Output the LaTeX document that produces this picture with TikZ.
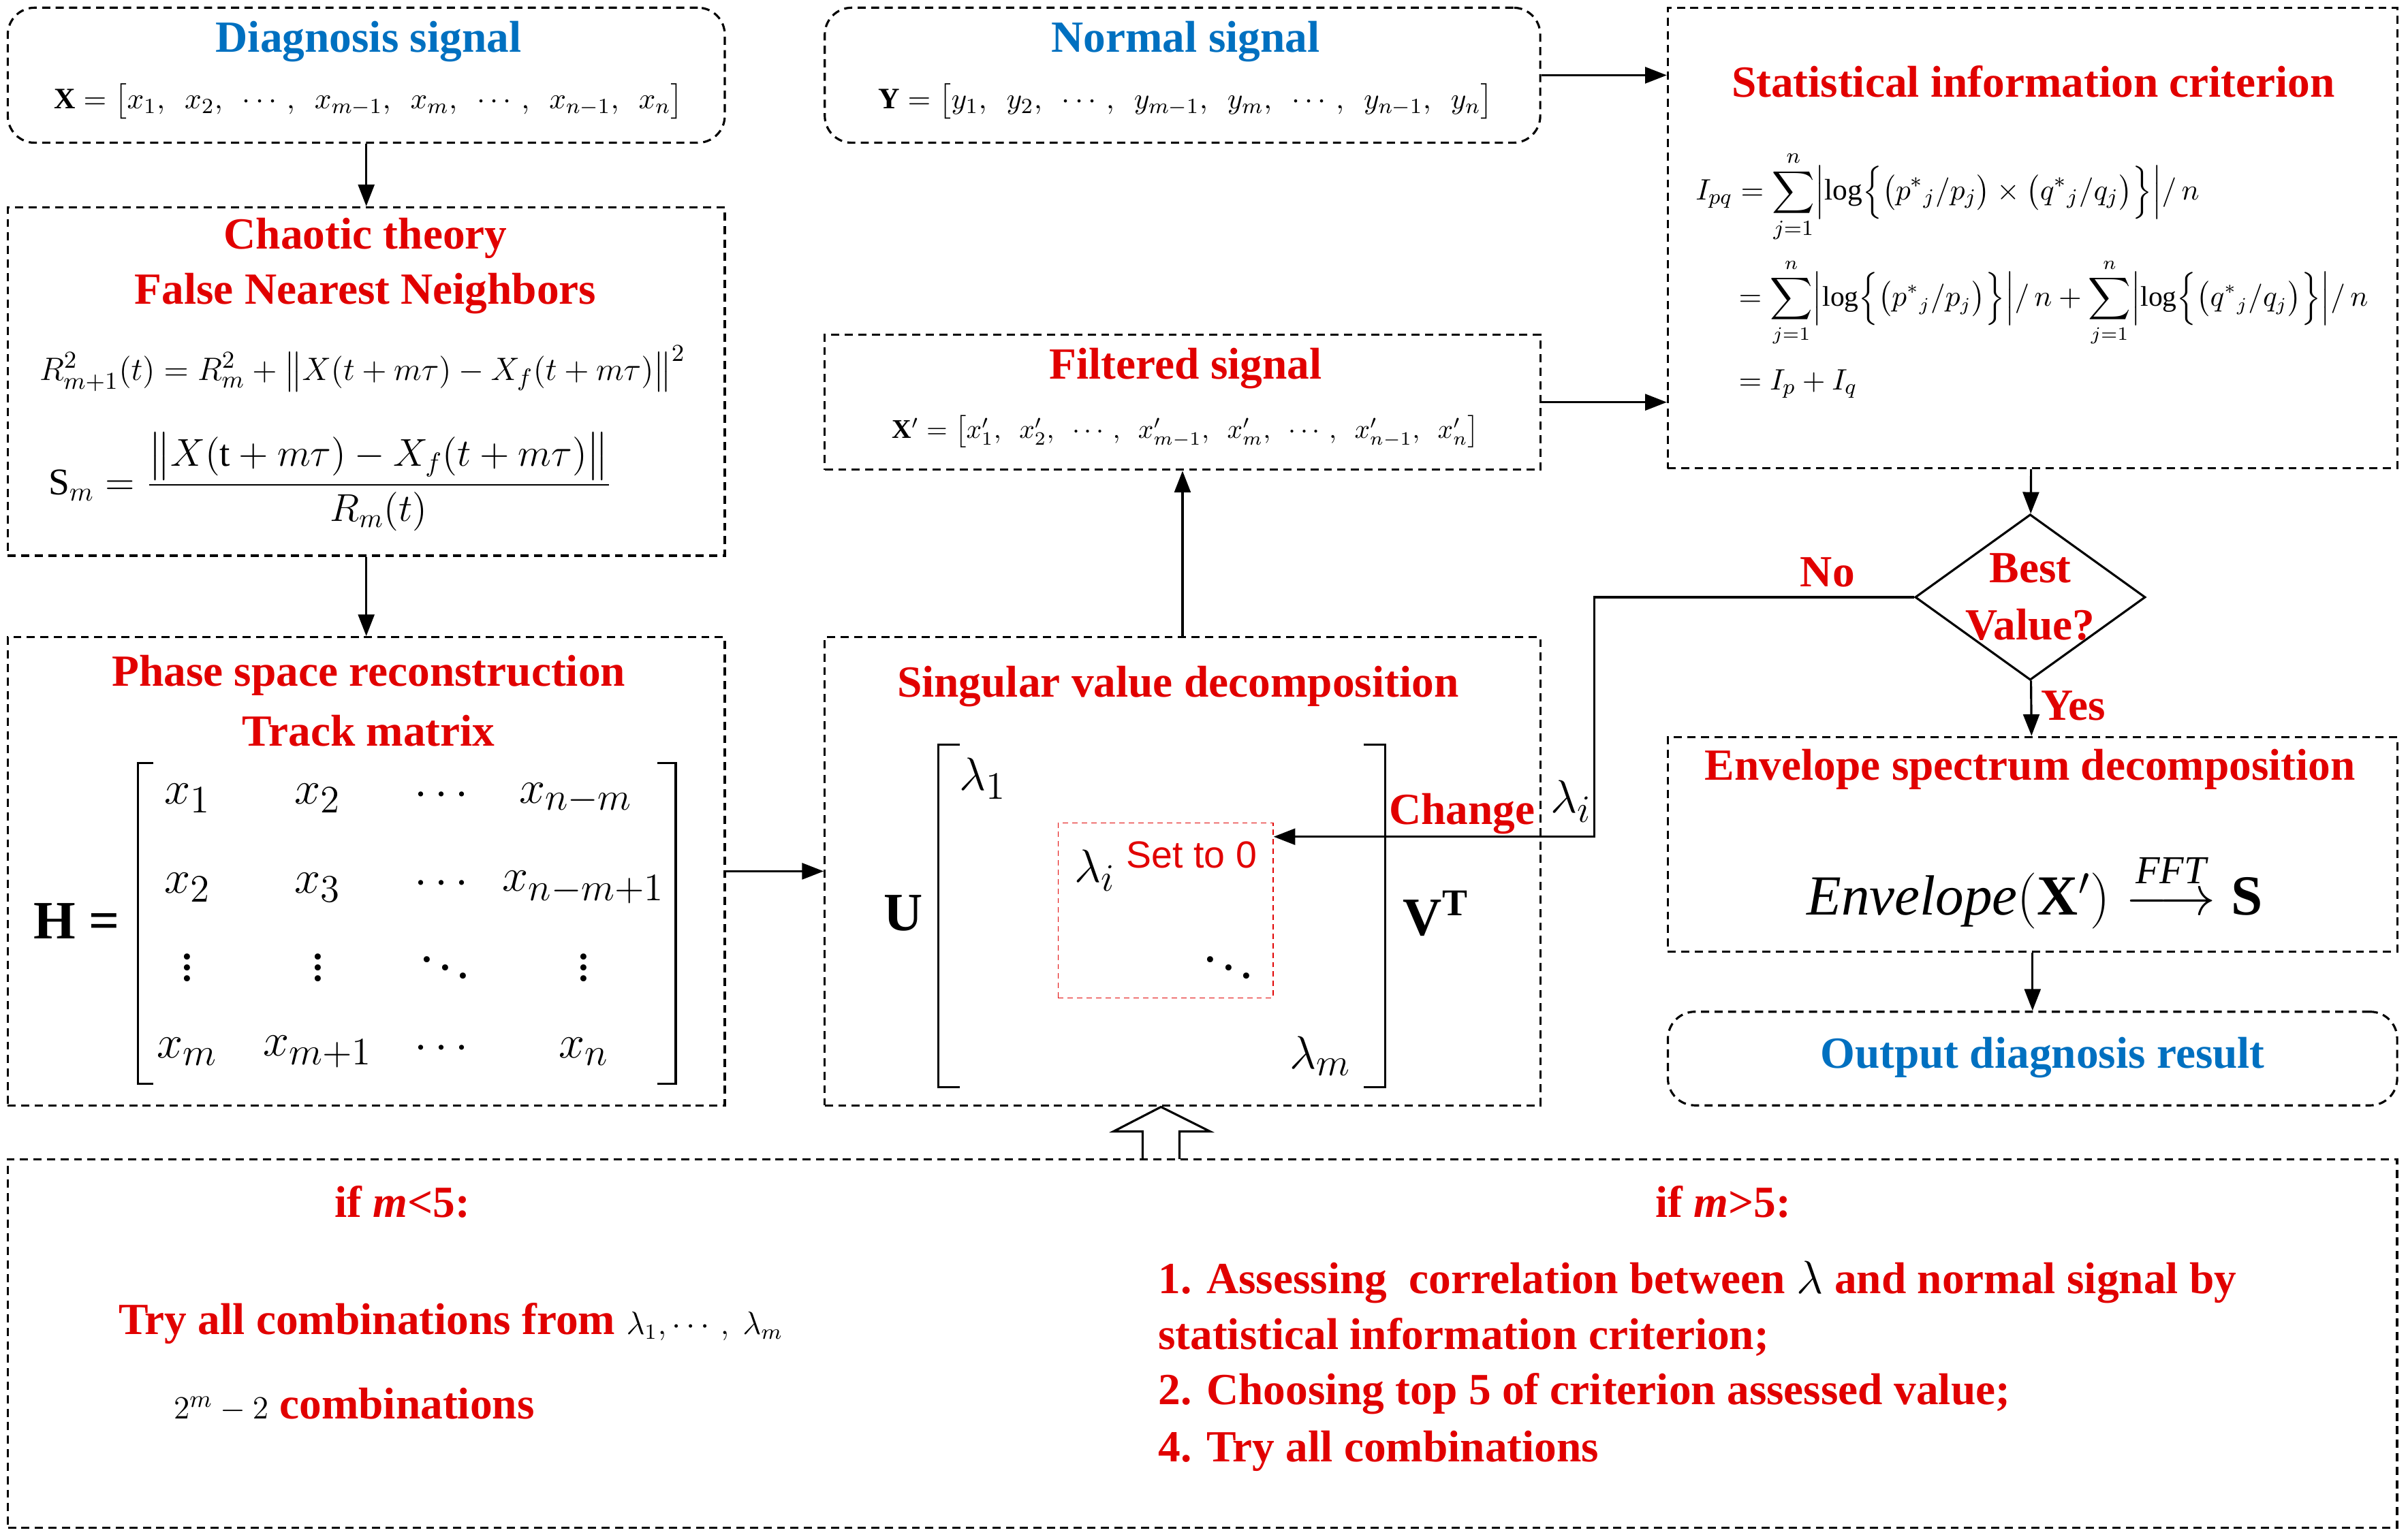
\documentclass[tikz,border=0pt]{standalone}
\usepackage{amsmath}
\usepackage{fontspec}
\setmainfont{Liberation Serif}
\newfontfamily\sansf{Liberation Sans}
\usetikzlibrary{arrows.meta,shapes.geometric,positioning}
\definecolor{tred}{RGB}{225,0,0}
\definecolor{tblue}{RGB}{0,112,192}
\tikzset{
  box/.style={draw,thick,dash pattern=on 3pt off 2pt,minimum width=9.34cm},
  rbox/.style={box,rounded corners=10pt},
  head/.style={text=tred,font=\fontsize{16.5}{19}\selectfont\bfseries},
  bhead/.style={text=tblue,font=\fontsize{16.5}{19}\selectfont\bfseries},
  eq/.style={font=\fontsize{11}{13}\selectfont},
  ent/.style={font=\fontsize{19}{22}\selectfont},
  flow/.style={thick,-{Triangle[length=8pt,width=6pt]}}
}
\begin{document}
\begin{tikzpicture}[x=0.02cm,y=-0.02cm]
\useasboundingbox (0,0) rectangle (1568,1002.4);
% boxes
\node[rbox,minimum height=1.76cm]                     (diag)   at (238.5,49)    {};
\node[box,minimum height=4.54cm]                      (chaos)  at (238.5,248.5) {};
\node[box,minimum height=6.1cm]                       (phase)  at (238.5,567.5) {};
\node[rbox,minimum width=9.32cm,minimum height=1.76cm] (normal) at (770,49)      {};
\node[box,minimum width=9.32cm,minimum height=1.76cm]  (filt)   at (770,262)     {};
\node[box,minimum width=9.32cm,minimum height=6.1cm]   (svd)    at (770,567.5)   {};
\node[box,minimum width=9.5cm,minimum height=6cm]      (stat)   at (1323.5,155)  {};
\node[draw,thick,diamond,minimum width=3cm,minimum height=2.16cm,inner sep=0pt] (best) at (1322,389) {};
\node[head] (tbest) at (1322,370) {Best};
\node[head] (tval)  at (1322,407) {Value?};
\node[box,minimum width=9.5cm,minimum height=2.8cm]    (env)    at (1323.5,550)  {};
\node[rbox,minimum width=9.5cm,minimum height=1.22cm]  (out)    at (1323.5,689.5) {};
\node[box,minimum width=31.12cm,minimum height=4.8cm]  (cond)   at (783,875)     {};
\node[draw=tred,thin,dash pattern=on 2pt off 1.5pt,minimum width=2.8cm,minimum height=2.28cm]
      (setz) at (759,593) {};

% titles
\node[bhead] (tdiag)   at (240,27)  {Diagnosis signal};
\node[bhead] (tnormal) at (772,27)  {Normal signal};
\node[head]  (tchaos)  at (238,155) {Chaotic theory};
\node[head]  (tfnn)    at (238,191) {False Nearest Neighbors};
\node[head]  (tphase)  at (240,440) {Phase space reconstruction};
\node[head]  (ttrack)  at (240,476) {Track matrix};
\node[head]  (tfilt)   at (772,240) {Filtered signal};
\node[head]  (tsvd)    at (767,447) {Singular value decomposition};
\node[head]  (tstat)   at (1324,53) {Statistical information criterion};
\node[head]  (tenv)    at (1322,501) {Envelope spectrum decomposition};
\node[bhead] (tout)    at (1330,689) {Output diagnosis result};

% signals
\node[eq] (xvec) at (240,66) {$\mathbf{X}=\bigl[x_1,\ \ x_2,\ \ \cdots,\ \ x_{m-1},\ \ x_m,\ \ \cdots,\ \ x_{n-1},\ \ x_n\bigr]$};
\node[eq] (yvec) at (772,66) {$\mathbf{Y}=\bigl[y_1,\ \ y_2,\ \ \cdots,\ \ y_{m-1},\ \ y_m,\ \ \cdots,\ \ y_{n-1},\ \ y_n\bigr]$};
\node[eq,font=\fontsize{10}{12}\selectfont] (xfil) at (772,281) {$\mathbf{X'}=\bigl[x'_1,\ \ x'_2,\ \ \cdots,\ \ x'_{m-1},\ \ x'_m,\ \ \cdots,\ \ x'_{n-1},\ \ x'_n\bigr]$};

% chaotic formulas
\node[eq,font=\fontsize{13}{16}\selectfont] (rform) at (236,240)
  {$R_{m+1}^2(t)=R_m^2+\bigl\|X(t+m\tau)-X_f(t+m\tau)\bigr\|^2$};
\node[eq,font=\fontsize{14}{17}\selectfont] (sform) at (215,314)
  {$\mathrm{S}_m=\dfrac{\bigl\|X(\mathrm{t}+m\tau)-X_f(t+m\tau)\bigr\|}{R_m(t)}$};

% criterion formulas
\node[eq,anchor=west] (ipq) at (1098,128)
  {$I_{pq}=\displaystyle\sum_{j=1}^{n}\Bigl|\log\Bigl\{\bigl(p^*{}_j/p_j\bigr)\times\bigl(q^*{}_j/q_j\bigr)\Bigr\}\Bigr|/\,n$};
\node[eq,anchor=west,font=\fontsize{10.5}{13}\selectfont] (ipq2) at (1126,197)
  {$=\displaystyle\sum_{j=1}^{n}\Bigl|\log\Bigl\{\bigl(p^*{}_j/p_j\bigr)\Bigr\}\Bigr|/\,n+\sum_{j=1}^{n}\Bigl|\log\Bigl\{\bigl(q^*{}_j/q_j\bigr)\Bigr\}\Bigr|/\,n$};
\node[eq,anchor=west] (ipq3) at (1126,250) {$=I_p+I_q$};

% track matrix
\node[ent,font=\fontsize{20}{24}\selectfont\bfseries] (hlab) at (50,600) {H =};
\foreach \t/\px/\py in {x_1/122/520, x_2/207/520, \cdots/290/518, x_{n-m}/375/520,
    x_2/122/578, x_3/207/578, \cdots/290/576, x_{n-m+1}/380/578,
    \vdots/122/625, \vdots/207/625, \ddots/290/625, \vdots/380/625,
    x_m/122/685, x_{m+1}/207/685, \cdots/290/683, x_n/380/685}
  \node[ent] at (\px,\py) {$\t$};
\draw[thick] (100,497) -- (90,497) -- (90,706) -- (100,706);
\draw[thick] (428,497) -- (440,497) -- (440,706) -- (428,706);

% svd matrix
\node[ent,font=\fontsize{20}{24}\selectfont\bfseries] (ulab) at (588,595) {U};
\node[ent,font=\fontsize{20}{24}\selectfont\bfseries] (vlab) at (935,595) {V$^{\mathbf{T}}$};
\draw[thick] (625,485) -- (611,485) -- (611,708) -- (625,708);
\draw[thick] (888,485) -- (902,485) -- (902,708) -- (888,708);
\node[ent] (lam1) at (640,507) {$\lambda_1$};
\node[ent] (lami) at (713,567) {$\lambda_i$};
\node[text=tred,font=\sansf\fontsize{14}{16}\selectfont] (setto) at (776,557) {Set to 0};
\node[ent] (dd) at (800,625) {$\ddots$};
\node[ent] (lamm) at (860,688) {$\lambda_m$};

% envelope
\node[font=\fontsize{21}{25}\selectfont] (envf) at (1325,580)
  {$\mathit{Envelope}(\mathbf{X'})\overset{\scriptstyle\mathit{FFT}}{\longrightarrow}\mathbf{S}$};

% connectors
\draw[flow] (diag) -- (chaos);
\draw[flow] (chaos) -- (phase);
\draw[flow] (phase) -- (svd);
\draw[flow] (svd) -- (filt);
\draw[flow] (normal.east) -- (normal.east -| stat.west);
\draw[flow] (filt.east) -- (filt.east -| stat.west);
\draw[flow] (stat) -- (best);
\draw[flow] (best) -- node[head,right,pos=0.45] {Yes} (env);
\draw[flow] (env) -- (out);
\coordinate (turn) at (1038,545);
\draw[flow] (best.west) -| (turn) -- (turn -| setz.east);
\node[head] (nolab) at (1190,373) {No};
\node[head] (chg) at (952,530) {Change};
\node[ent] (lamc) at (1023,522) {$\lambda_i$};
\draw[thick] (744,755) -- (744,737) -- (725,737) -- (756,721) -- (788,737) -- (768,737) -- (768,755);

% conditions
\node[head] (ifl) at (262,783) {if \textit{m}<5:};
\node[head,anchor=west] (tryc) at (71,862) {Try all combinations from \textnormal{\color{black}\fontsize{12}{14}\selectfont$\lambda_1,\cdots,\ \lambda_m$}};
\node[head,anchor=west] (comb) at (107,915) {\textnormal{\color{black}\fontsize{13}{15}\selectfont$2^m-2$} combinations};
\node[head] (ifr) at (1122,783) {if \textit{m}>5:};
\node[head,anchor=west] (s1) at (748,835) {1. Assessing\ \ correlation between \textnormal{\color{black}$\lambda$} and normal signal by};
\node[head,anchor=west] (s2) at (748,871) {statistical information criterion;};
\node[head,anchor=west] (s3) at (748,908) {2. Choosing top 5 of criterion assessed value;};
\node[head,anchor=west] (s4) at (748,945) {4. Try all combinations};
\end{tikzpicture}
\end{document}
